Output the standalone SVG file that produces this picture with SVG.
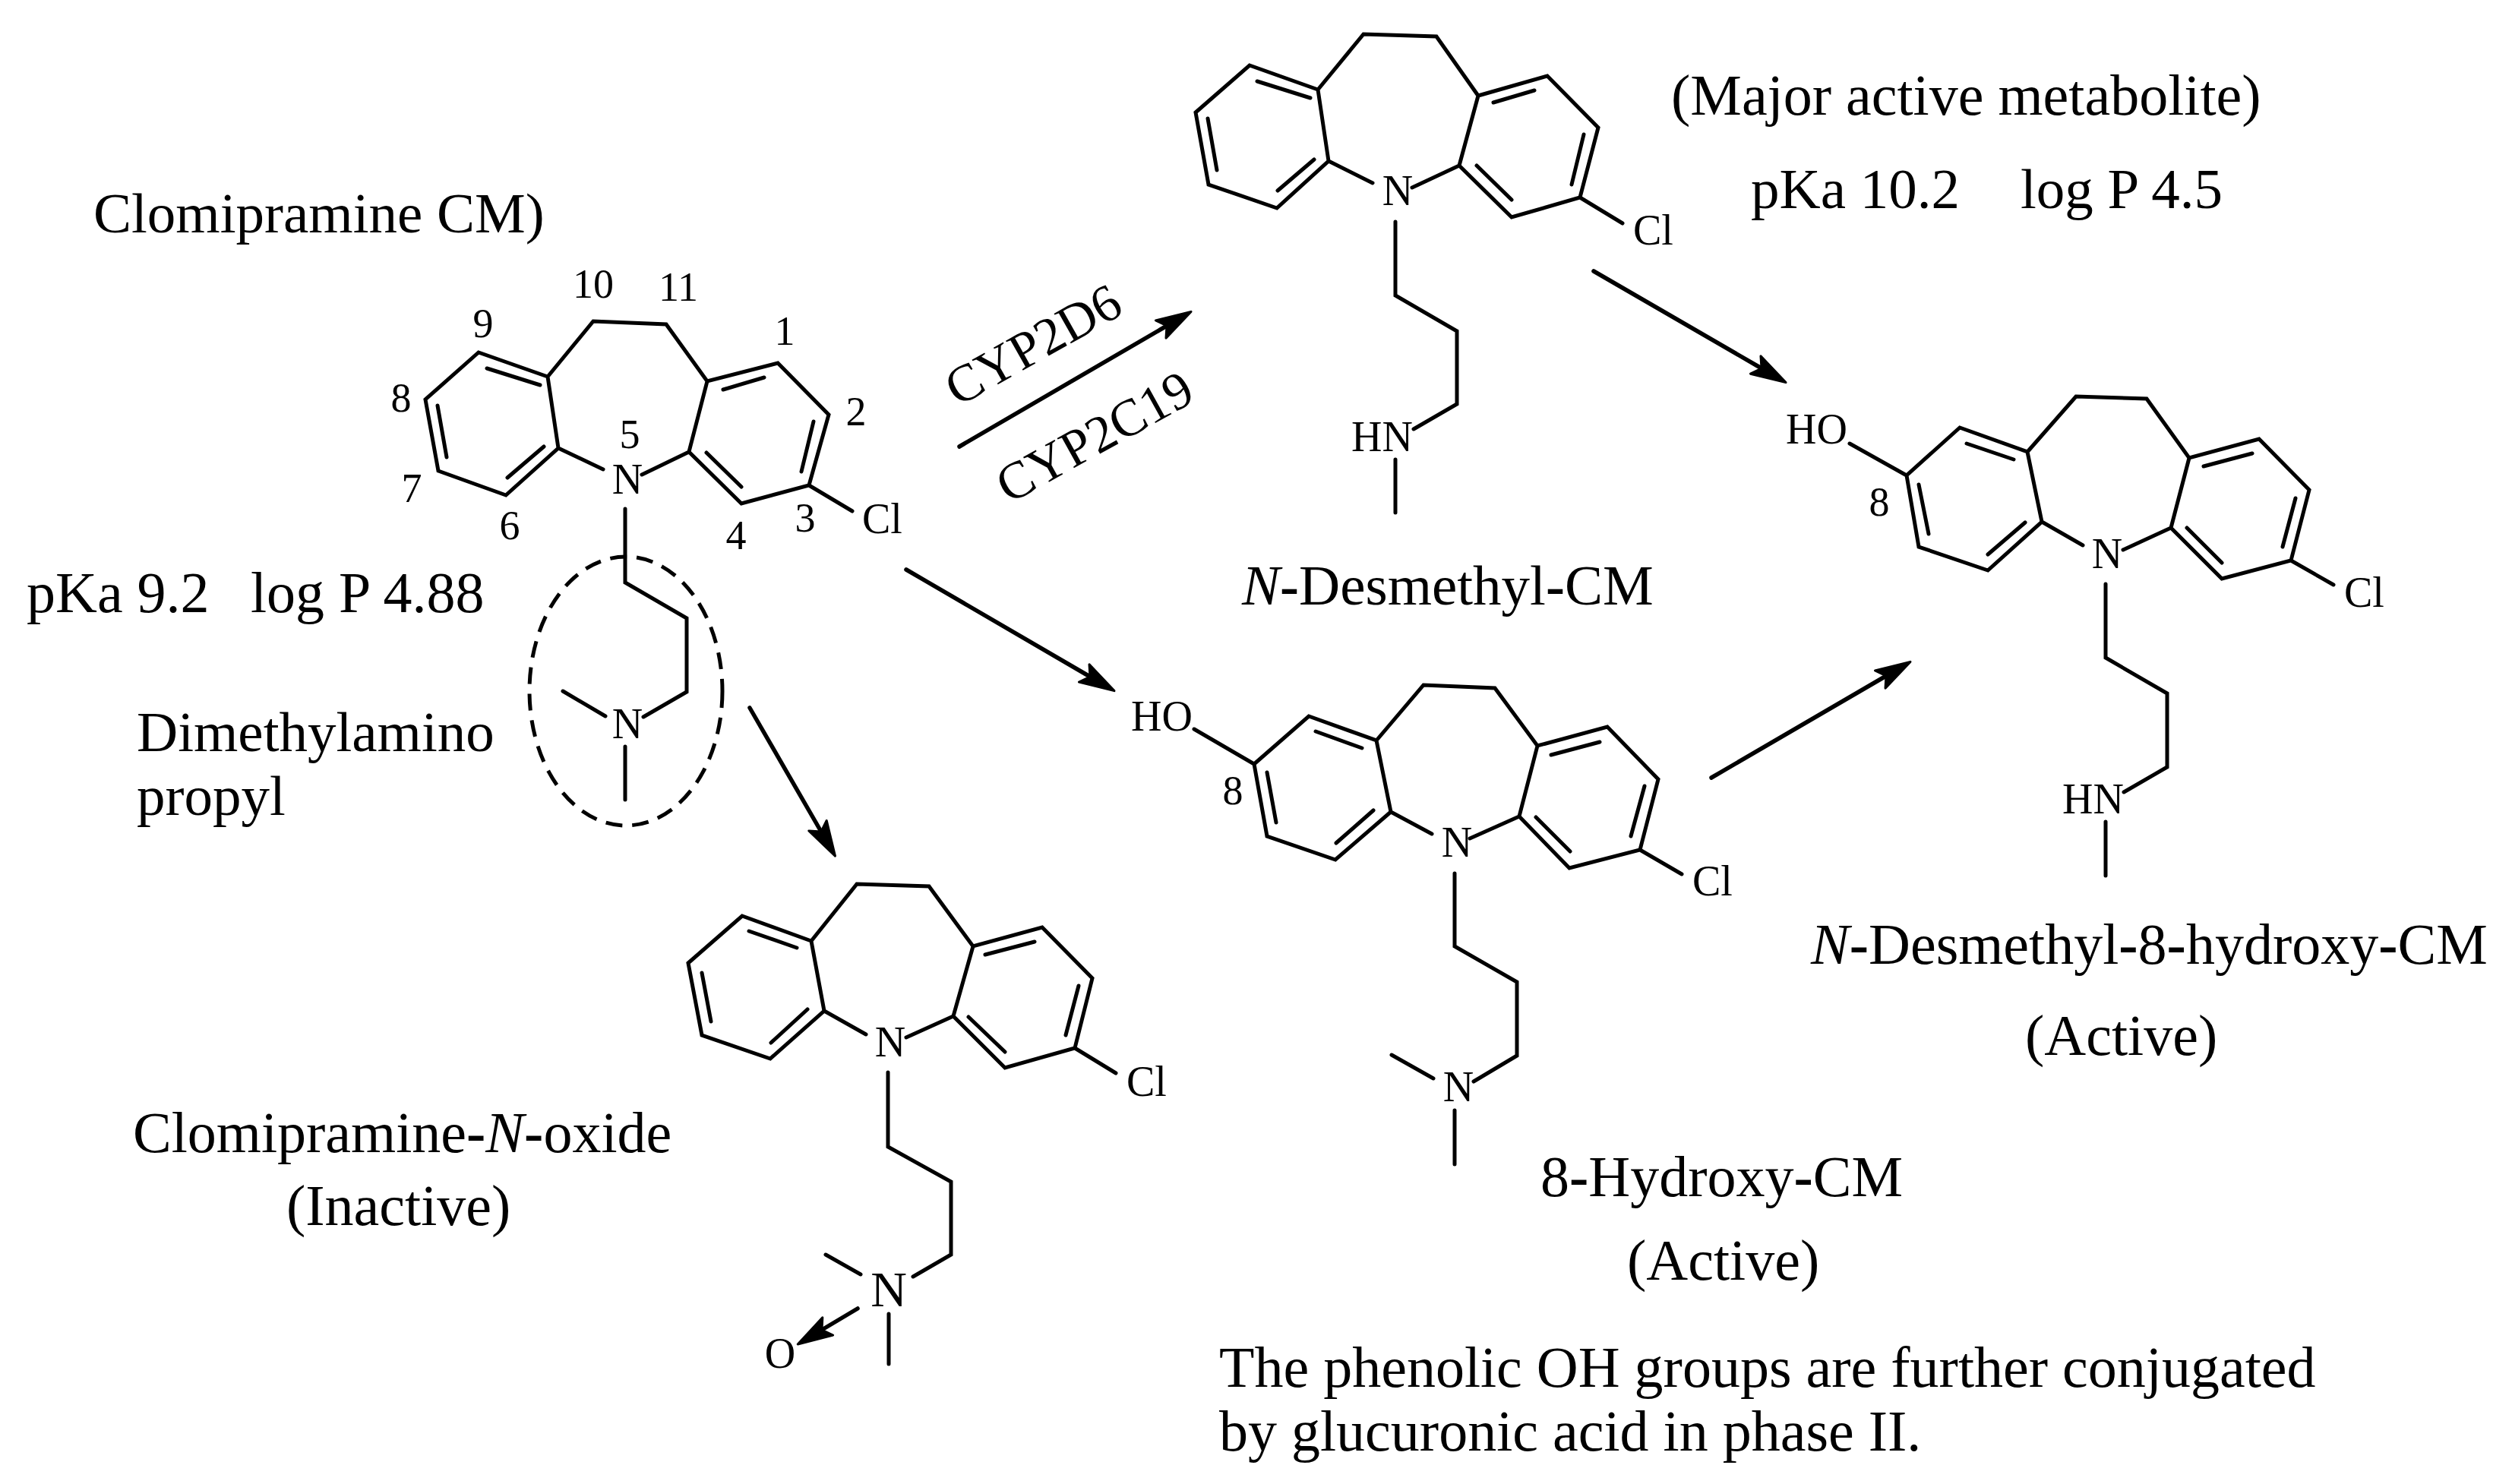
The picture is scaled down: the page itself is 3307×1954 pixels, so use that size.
<svg xmlns="http://www.w3.org/2000/svg" width="3307" height="1954" viewBox="0 0 3307 1954">
<defs>
<style>
text{font-family:"Liberation Serif","Times New Roman",serif;fill:#000}
.t{font-size:76px}
.s{font-size:75px}
.a{font-size:56px}
.m{text-anchor:middle}
.e{text-anchor:end}
.d{font-size:54px;text-anchor:middle}
.c{font-size:69px}
.i{font-style:italic}
.h{font-weight:bold}
.b{fill:none;stroke:#000;stroke-width:5;stroke-linecap:round;stroke-linejoin:miter}
.r{fill:none;stroke:#000;stroke-width:5.5;stroke-linecap:round;marker-end:url(#head)}
</style>
<marker id="head" markerUnits="userSpaceOnUse" viewBox="-3 -3 54 36" markerWidth="54" markerHeight="36" refX="10" refY="15" orient="auto" overflow="visible">
<path d="M47,15 L1,1.5 L10,15 L1,28.5 Z" fill="#000" stroke="#000" stroke-width="3" stroke-linejoin="round"/>
</marker>
</defs>
<rect width="3307" height="1954" fill="#fff"/>
<g id="connectors">
<path class="r" d="M1263,588 L1536,429"/>
<path class="r" d="M2098,357 L2319,485"/>
<path class="r" d="M1193,750 L1435,891"/>
<path class="r" d="M2253,1024 L2483,890"/>
<path class="r" d="M987,932 L1081,1095"/>
</g>
<g id="clomipramine">
<path class="b" d="M735,590 L721,496 L630,464 L560,526 L577,620 L666,652 Z M721,496 L781,423 L877,427 L931,502 L1024,478 L1091,546 L1065,639 L976,663 L907,595 L931,502 M641,485 L711,507 M576,534 L588,602 M668,629 L716,588 M952,513 L1006,497 M1071,555 L1055,621 M930,596 L976,641 M735,590 L794,618 M907,595 L845,625 M1065,639 L1122,673 M823,670 L823,767 L904,814 L904,911 L847,944 M797,943 L741,910 M823,983 L823,1053"/>
<ellipse cx="824" cy="910" rx="127" ry="177" fill="none" stroke="#000" stroke-width="5" stroke-dasharray="22 13"/>
<text class="a m" x="826" y="650">N</text>
<text class="a m" x="826" y="972">N</text>
<text class="a" x="1135" y="702">Cl</text>
<text class="d" x="781" y="392">10</text>
<text class="d" x="893" y="396">11</text>
<text class="d" x="636" y="444">9</text>
<text class="d" x="528" y="542">8</text>
<text class="d" x="542" y="661">7</text>
<text class="d" x="671" y="710">6</text>
<text class="d" x="829" y="590">5</text>
<text class="d" x="969" y="723">4</text>
<text class="d" x="1060" y="700">3</text>
<text class="d" x="1127" y="560">2</text>
<text class="d" x="1033" y="454">1</text>
<text class="s" x="123" y="306">Clomipramine CM)</text>
<text class="t" x="35" y="806">pKa 9.2</text>
<text class="t" x="330" y="806">log P 4.88</text>
<text class="s" x="180" y="989">Dimethylamino</text>
<text class="s" x="180" y="1073">propyl</text>
</g>
<g id="cyp-labels">
<text class="c" transform="translate(1261,536) rotate(-29.4)">CYP2D6</text>
<text class="c" transform="translate(1328,664) rotate(-29)">CYP2C19</text>
</g>
<g id="n-desmethyl-cm">
<path class="b" d="M1749,212 L1735,118 L1645,86 L1574,148 L1591,243 L1681,274 Z M1735,118 L1795,45 L1891,48 L1946,126 L2037,100 L2104,168 L2080,260 L1990,286 L1921,218 L1946,126 M1655,107 L1725,129 M1590,156 L1602,224 M1682,251 L1730,210 M1966,135 L2020,119 M2085,177 L2069,243 M1944,218 L1990,263 M1749,212 L1807,241 M1921,218 L1859,247 M2080,260 L2136,294 M1837,292 L1837,389 L1918,436 L1918,532 L1861,565 M1837,605 L1837,675"/>
<text class="a m" x="1840" y="270">N</text>
<text class="a" x="2150" y="322">Cl</text>
<text class="a e" x="1860" y="594">HN</text>
<text class="s" x="1635" y="796"><tspan class="i">N</tspan><tspan class="h">-</tspan>Desmethyl<tspan class="h">-</tspan>CM</text>
<text class="t" x="2200" y="151">(Major active metabolite)</text>
<text class="s" x="2305" y="274">pKa 10.2</text>
<text class="s" x="2660" y="274">log P 4.5</text>
</g>
<g id="desmethyl-8-hydroxy-cm">
<path class="b" d="M2688,687 L2669,595 L2580,563 L2510,626 L2526,720 L2617,751 Z M2669,595 L2733,522 L2826,525 L2882,603 L2974,578 L3040,645 L3016,738 L2925,762 L2858,695 L2882,603 M2589,584 L2651,605 M2526,638 L2539,703 M2617,730 L2666,688 M2901,614 L2965,597 M3022,656 L3005,720 M2879,695 L2925,741 M2688,687 L2742,718 M2858,695 L2795,724 M3016,738 L3072,770 M2510,626 L2435,584 M2772,769 L2772,866 L2853,913 L2853,1010 L2796,1043 M2772,1082 L2772,1153"/>
<text class="a m" x="2774" y="748">N</text>
<text class="a" x="3086" y="799">Cl</text>
<text class="a e" x="2796" y="1071">HN</text>
<text class="a" x="2351" y="584">HO</text>
<text class="d" x="2474" y="679">8</text>
<text class="t" x="2384" y="1269"><tspan class="i">N</tspan><tspan class="h">-</tspan>Desmethyl<tspan class="h">-</tspan>8<tspan class="h">-</tspan>hydroxy<tspan class="h">-</tspan>CM</text>
<text class="t" x="2666" y="1389">(Active)</text>
</g>
<g id="hydroxy-cm">
<path class="b" d="M1831,1069 L1812,975 L1723,943 L1651,1006 L1668,1101 L1758,1132 Z M1812,975 L1874,902 L1968,906 L2024,982 L2116,957 L2183,1026 L2159,1119 L2066,1143 L2000,1075 L2024,982 M1732,963 L1793,985 M1668,1017 L1680,1083 M1759,1110 L1808,1067 M2042,994 L2106,977 M2165,1035 L2147,1101 M2022,1076 L2067,1121 M1831,1069 L1885,1098 M2000,1075 L1935,1104 M2159,1119 L2214,1151 M1651,1006 L1572,960 M1915,1150 L1915,1246 L1997,1293 L1997,1390 L1940,1424 M1832,1389 L1887,1420 M1915,1462 L1915,1533"/>
<text class="a m" x="1918" y="1128">N</text>
<text class="a m" x="1920" y="1450">N</text>
<text class="a" x="2228" y="1179">Cl</text>
<text class="a" x="1489" y="962">HO</text>
<text class="d" x="1623" y="1059">8</text>
<text class="t" x="2028" y="1575">8<tspan class="h">-</tspan>Hydroxy<tspan class="h">-</tspan>CM</text>
<text class="t" x="2142" y="1685">(Active)</text>
</g>
<g id="clomipramine-n-oxide">
<path class="b" d="M1085,1331 L1068,1239 L977,1206 L906,1268 L924,1363 L1014,1394 Z M1068,1239 L1128,1164 L1223,1167 L1281,1246 L1372,1221 L1438,1288 L1415,1380 L1323,1406 L1255,1338 L1281,1246 M986,1226 L1049,1248 M924,1281 L936,1345 M1015,1373 L1063,1329 M1297,1257 L1362,1240 M1420,1298 L1403,1363 M1275,1339 L1323,1385 M1085,1331 L1140,1362 M1255,1338 L1193,1366 M1415,1380 L1469,1413 M1169,1412 L1169,1510 L1252,1556 L1252,1652 L1202,1681 M1087,1652 L1133,1678 M1170,1730 L1170,1796"/>
<path class="r" d="M1129,1723 L1082,1751"/>
<text class="a m" x="1172" y="1391">N</text>
<text class="a m" x="1170" y="1720" style="font-size:66px">N</text>
<text class="a" x="1483" y="1443">Cl</text>
<text class="a m" x="1027" y="1801">O</text>
<text class="t" x="175" y="1517">Clomipramine<tspan class="h">-</tspan><tspan class="i">N</tspan><tspan class="h">-</tspan>oxide</text>
<text class="t" x="377" y="1613">(Inactive)</text>
</g>
<g id="note">
<text class="t" x="1605" y="1826">The phenolic OH groups are further conjugated</text>
<text class="t" x="1605" y="1910">by glucuronic acid in phase II.</text>
</g>
</svg>
